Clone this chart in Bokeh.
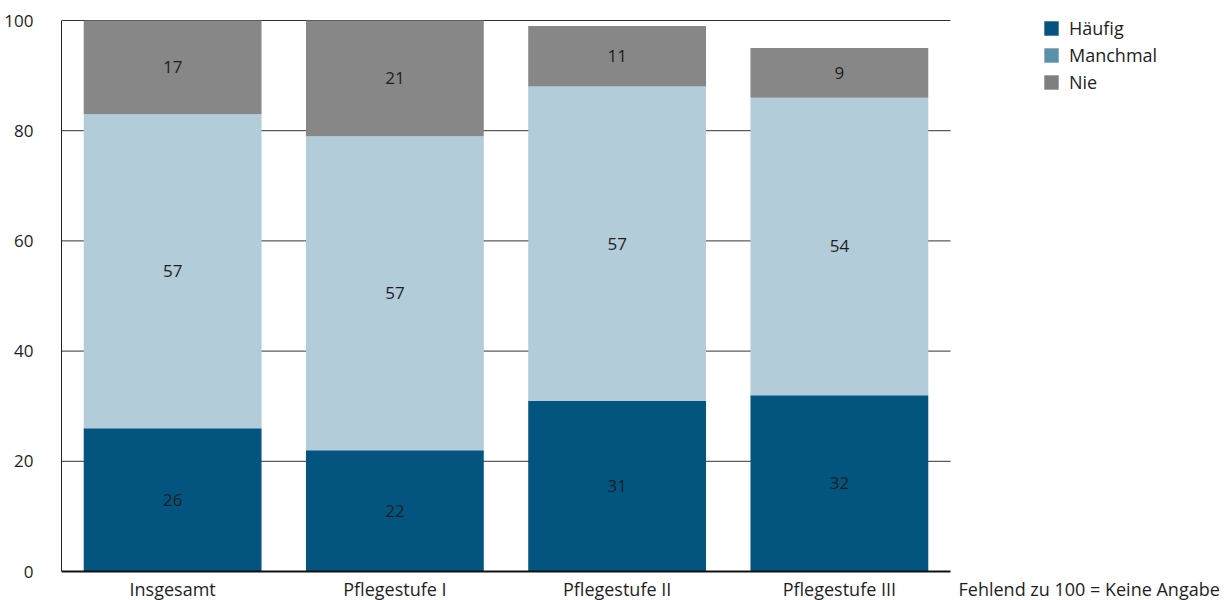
from bokeh.plotting import figure
from bokeh.models import ColumnDataSource, Range1d, Legend, LegendItem
from bokeh.core.properties import value
from bokeh.embed import file_html
from bokeh.resources import INLINE

categories = ["Insgesamt", "Pflegestufe I", "Pflegestufe II", "Pflegestufe III"]
haeufig = [26, 22, 31, 32]
manchmal = [57, 57, 57, 54]
nie = [17, 21, 11, 9]
series_keys = ["haeufig", "manchmal", "nie"]
series_names = ["Häufig", "Manchmal", "Nie"]
bar_colors = ["#03557f", "#b3ccd9", "#878787"]
legend_colors = ["#03557f", "#5b90aa", "#7f7f7f"]
y_ticks = [0, 20, 40, 60, 80, 100]
note = "Fehlend zu 100 = Keine Angabe"

FONT = "Open Sans"
TXT = "#1e1e1e"

# layout in pixels
LEFT, TOP = 61, 10
FRAME_W, FRAME_H = 1169, 590
PLOT_W = 889          # width of the category area
Y0_PX, Y100_PX = 571, 20   # pixel rows of 0 and 100 in the page
px_per_unit_y = (Y0_PX - Y100_PX) / 100.0
px_per_cat = PLOT_W / len(categories)
y_end = 100 + (Y100_PX - TOP) / px_per_unit_y
y_start = -((TOP + FRAME_H) - Y0_PX) / px_per_unit_y
x_end = FRAME_W / px_per_cat

p = figure(x_range=Range1d(0, x_end), y_range=Range1d(y_start, y_end),
           frame_width=FRAME_W, frame_height=FRAME_H,
           min_border_left=LEFT, min_border_right=0, min_border_top=TOP, min_border_bottom=0,
           x_axis_location=None, output_backend="svg", toolbar_location=None)
p.outline_line_color = None
p.xgrid.grid_line_color = None
p.ygrid.grid_line_color = None

n = len(categories)
xs = [i + 0.5 for i in range(n)]

# gridlines and baseline limited to category area
grid_vals = [t for t in y_ticks if t > 0]
p.segment(x0=[0] * len(grid_vals), x1=[n] * len(grid_vals), y0=grid_vals, y1=grid_vals,
          line_color="#333333", line_width=1)

src = ColumnDataSource(dict(x=xs, haeufig=haeufig, manchmal=manchmal, nie=nie))
p.vbar_stack(series_keys, x="x", width=0.8, color=bar_colors, line_color=None, source=src)

p.segment(x0=[0], x1=[n], y0=[0], y1=[0], line_color="#111111", line_width=2)

# segment labels
lx, ly, lt = [], [], []
for i in range(n):
    base = 0
    for vals in (haeufig, manchmal, nie):
        v = vals[i]
        lx.append(xs[i])
        ly.append(base + v / 2)
        lt.append(str(v))
        base += v
p.text(x=lx, y=ly, text=lt, text_align="center", text_baseline="middle",
       text_font=value(FONT), text_font_size="17px", text_color=TXT)

# category labels and note below the baseline
label_y = -(588 - Y0_PX) / px_per_unit_y
p.text(x=xs, y=[label_y] * n, text=categories, text_align="center", text_baseline="alphabetic",
       text_font=value(FONT), text_font_size="18px", text_color=TXT)
p.text(x=[n + (958 - LEFT - PLOT_W) / px_per_cat], y=[label_y], text=[note],
       text_align="left", text_baseline="alphabetic",
       text_font=value(FONT), text_font_size="18px", text_color=TXT)

# y axis
p.yaxis.bounds = (0, 100)
p.yaxis.ticker = y_ticks
p.yaxis.major_tick_line_color = None
p.yaxis.minor_tick_line_color = None
p.yaxis.axis_line_color = "#222222"
p.yaxis.major_label_standoff = 22
p.yaxis.major_label_text_font = FONT
p.yaxis.major_label_text_font_size = "17px"
p.yaxis.major_label_text_color = TXT

# legend (own colours); dummy bars sit outside the visible range
items = []
for name, col in zip(series_names, legend_colors):
    r = p.vbar(x=[-10], top=[1], width=0.8, fill_color=col, line_color=None)
    items.append(LegendItem(label=name, renderers=[r]))
legend = Legend(items=items, location=(1042 - LEFT, (TOP + FRAME_H) - 94), orientation="vertical",
                glyph_width=18, glyph_height=18, label_height=18, spacing=3,
                padding=0, margin=0, label_standoff=9,
                border_line_color=None, background_fill_alpha=0,
                label_text_font=FONT, label_text_font_size="18px", label_text_color=TXT)
p.add_layout(legend)

open("out.html", "w").write(file_html(p, INLINE))
